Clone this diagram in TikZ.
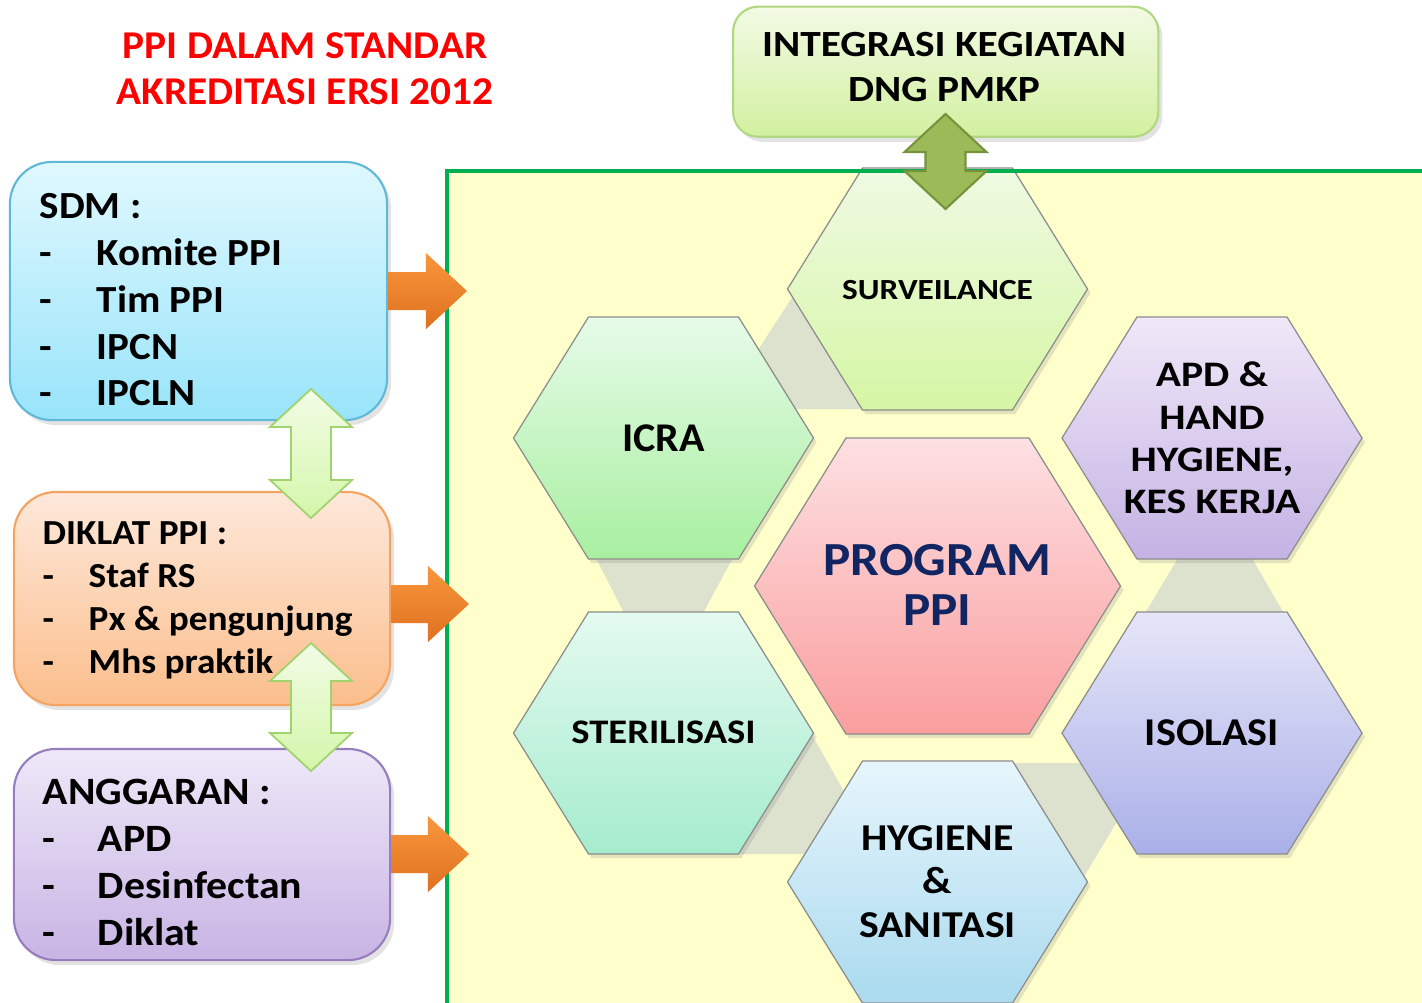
\documentclass[tikz,border=0pt]{standalone}
\usepackage{fontspec}
\setmainfont{Carlito}[Ligatures=NoCommon]
\usetikzlibrary{calc,shadows}

\newcommand{\widen}[1]{\addfontfeatures{FakeStretch=#1}}

\definecolor{bgyellow}{HTML}{FFFFCC}
\definecolor{framegreen}{HTML}{00B050}
\definecolor{linkgray}{HTML}{DCE2CD}
\definecolor{hexline}{HTML}{8C8C8C}
\definecolor{titlered}{HTML}{FF0000}
\definecolor{progblue}{HTML}{102562}
\definecolor{survtop}{HTML}{EFFAE3}\definecolor{survbot}{HTML}{D5F6A4}
\definecolor{icratop}{HTML}{E6FBE8}\definecolor{icrabot}{HTML}{A8EFA0}
\definecolor{stertop}{HTML}{E4FAF0}\definecolor{sterbot}{HTML}{A5ECCD}
\definecolor{hygtop}{HTML}{E6F5FC}\definecolor{hygbot}{HTML}{AADAEE}
\definecolor{isoltop}{HTML}{E6E6F8}\definecolor{isolbot}{HTML}{AAB0E8}
\definecolor{apdtop}{HTML}{F0E8F8}\definecolor{apdbot}{HTML}{C4B2E4}
\definecolor{progtop}{HTML}{FDE0E2}\definecolor{progbot}{HTML}{FA9E9E}
\definecolor{sdmtop}{HTML}{E0F8FE}\definecolor{sdmbot}{HTML}{98E4FA}
\definecolor{sdmline}{HTML}{60B8D8}
\definecolor{diktop}{HTML}{FDE8DA}\definecolor{dikbot}{HTML}{FBBE8C}
\definecolor{dikline}{HTML}{F4A460}
\definecolor{angtop}{HTML}{EEE8F8}\definecolor{angbot}{HTML}{C8B4E4}
\definecolor{angline}{HTML}{967DBE}
\definecolor{integtop}{HTML}{F2FAE4}\definecolor{integbot}{HTML}{D2F0A0}
\definecolor{integline}{HTML}{B0D880}
\definecolor{arrtop}{HTML}{F8963C}\definecolor{arrbot}{HTML}{E07020}
\definecolor{paletop}{HTML}{F2FCE6}\definecolor{palebot}{HTML}{D4F6AA}
\definecolor{palearrline}{HTML}{A0D26E}
\definecolor{darkarr}{HTML}{9BBB59}\definecolor{darkarrline}{HTML}{76923C}

\begin{document}
\begin{tikzpicture}
  [x=0.01cm, y=-0.01cm,
     hexcell/.style={draw=hexline,
                  line width=0.35pt,
                  drop shadow={shadow xshift=0.03cm,shadow yshift=-0.04cm,opacity=0.22}},
     hexlabel/.style={font=\bfseries\fontsize{10.8}{12.4}\selectfont\widen{1.1},
                  align=center,
                  inner sep=0pt},
     infobox/.style={rectangle,
                  rounded corners=0.42cm,
                  line width=0.6pt,
                  inner sep=0pt,
                  drop shadow={shadow xshift=0.04cm,shadow yshift=-0.05cm,opacity=0.22}},
     boxtext/.style={anchor=north west,
                  align=left,
                  inner sep=0pt},
     orangearr/.style={top color=arrtop,
                  bottom color=arrbot,
                  to path={let \p1=(\tikztostart), \p2=(\tikztotarget) in
                    (\x1,\y2+0.19cm) -- (\x2-0.41cm,\y2+0.19cm) -- (\x2-0.41cm,\y2+0.38cm) -- (\p2)
                    -- (\x2-0.41cm,\y2-0.38cm) -- (\x2-0.41cm,\y2-0.19cm) -- (\x1,\y2-0.19cm) -- cycle}},
     updown/.style={to path={let \p1=(\tikztostart), \p2=(\tikztotarget) in
                    (\p1) -- (\x1+0.41cm,\y1-0.38cm) -- (\x1+0.2cm,\y1-0.38cm) -- (\x1+0.2cm,\y2+0.38cm)
                    -- (\x1+0.41cm,\y2+0.38cm) -- (\x1,\y2) -- (\x1-0.41cm,\y2+0.38cm) -- (\x1-0.2cm,\y2+0.38cm)
                    -- (\x1-0.2cm,\y1-0.38cm) -- (\x1-0.41cm,\y1-0.38cm) -- cycle}},
     paleupdown/.style={updown,
                  draw=palearrline,
                  line width=0.5pt,
                  top color=paletop,
                  bottom color=palebot},
     darkupdown/.style={updown,
                  draw=darkarrline,
                  line width=0.6pt,
                  fill=darkarr}
  ]
    \useasboundingbox (0,0) rectangle (1422,1002);

    % yellow field
    \fill[bgyellow] (447,171) rectangle (1440,1020);

    % grey links between the outer cells
    \fill[linkgray] (594,554) -- (735,554) -- (702,615) -- (625,615) -- cycle;
    \fill[linkgray] (1180.5,554) -- (1249.5,554) -- (1285,615) -- (1144,615) -- cycle;
    \fill[linkgray] (747,367) -- (806,276) -- (880,276) -- (880,409) -- (780,409) -- cycle;
    \fill[linkgray] (803,719) -- (862,823) -- (862,854) -- (720,854) -- cycle;
    \fill[linkgray] (990,763) -- (1088,763) -- (1145,775) -- (1079,885) -- cycle;

    % outer cells
    \foreach \cx/\cy/\ct/\cb in {937.5/289/survtop/survbot, 663.5/438/icratop/icrabot,
                                 1212/438/apdtop/apdbot, 663.5/733/stertop/sterbot,
                                 1212/733/isoltop/isolbot, 937.5/882/hygtop/hygbot}{
        \path[hexcell, top color=\ct, bottom color=\cb]
            (\cx-150,\cy) -- (\cx-75,\cy-121) -- (\cx+75,\cy-121) -- (\cx+150,\cy)
            -- (\cx+75,\cy+121) -- (\cx-75,\cy+121) -- cycle;
    }
    % centre cell
    \path[hexcell, top color=progtop, bottom color=progbot]
        (754.5,586) -- (846,438) -- (1029,438) -- (1120.5,586) -- (1029,734) -- (846,734) -- cycle;

    \draw[framegreen, line width=1.2pt] (1440,171) -- (447,171) -- (447,1020);

    \node[hexlabel, font=\bfseries\fontsize{8.3}{10}\selectfont\widen{1.14}] (surv) at (937.5,290.5) {SURVEILANCE};
    \node[hexlabel, font=\bfseries\fontsize{11.6}{13}\selectfont\widen{1.03}] (icra) at (663.5,438.5) {ICRA};
    \node[hexlabel, font=\bfseries\fontsize{10.2}{12}\selectfont\widen{1.16}] (apd) at (1212,438) {APD \&\\HAND\\HYGIENE,\\KES KERJA};
    \node[hexlabel, font=\bfseries\fontsize{9.8}{12}\selectfont\widen{1.12}] (ster) at (663.5,732.5) {STERILISASI};
    \node[hexlabel, font=\bfseries\fontsize{11.2}{13}\selectfont\widen{1.07}] (isol) at (1212,732.5) {ISOLASI};
    \node[hexlabel] (hyg) at (937.5,881.5) {HYGIENE\\\&\\SANITASI};
    \node[hexlabel, font=\bfseries\fontsize{13.5}{14.2}\selectfont\widen{1.08}, text=progblue] (prog) at (937.5,585) {PROGRAM\\PPI};

    % title and boxes
    \node[font=\bfseries\fontsize{11.2}{13}\selectfont\widen{1.05}, text=titlered, align=center] (title) at (305,68.5)
        {PPI DALAM STANDAR\\AKREDITASI ERSI 2012};
    \node[infobox, rounded corners=0.25cm, minimum width=4.25cm, minimum height=1.30cm,
          top color=integtop, bottom color=integbot, draw=integline] (integ) at (945.7,71.7) {};
    \node[font=\bfseries\fontsize{10.5}{12.8}\selectfont\widen{1.12}, align=center, inner sep=0pt]
        (integtxt) at (944,67.5) {INTEGRASI KEGIATAN\\DNG PMKP};

    \node[infobox, minimum width=3.77cm, minimum height=2.58cm,
          top color=sdmtop, bottom color=sdmbot, draw=sdmline] (sdm) at (198.5,291) {};
    \node[boxtext, font=\bfseries\fontsize{10.9}{13.3}\selectfont\widen{1.07}] (sdmtxt) at (39,193)
        {SDM :\\\makebox[0.57cm][l]{-}Komite PPI\\\makebox[0.57cm][l]{-}Tim PPI\\
         \makebox[0.57cm][l]{-}IPCN\\\makebox[0.57cm][l]{-}IPCLN};

    \node[infobox, minimum width=3.76cm, minimum height=2.13cm,
          top color=diktop, bottom color=dikbot, draw=dikline] (diklat) at (202,598.5) {};
    \node[boxtext, font=\bfseries\fontsize{10}{12.2}\selectfont\widen{1.06}] (diktxt) at (42,521)
        {DIKLAT PPI :\\\makebox[0.46cm][l]{-}Staf RS\\\makebox[0.46cm][l]{-}Px \& pengunjung\\
         \makebox[0.46cm][l]{-}Mhs praktik};

    \node[infobox, minimum width=3.76cm, minimum height=2.11cm,
          top color=angtop, bottom color=angbot, draw=angline] (angg) at (202,854.5) {};
    \node[boxtext, font=\bfseries\fontsize{11}{13.4}\selectfont\widen{1.08}] (angtxt) at (42,778)
        {ANGGARAN :\\\makebox[0.55cm][l]{-}APD\\\makebox[0.55cm][l]{-}Desinfectan\\
         \makebox[0.55cm][l]{-}Diklat};

    % arrows
    \coordinate (tipa) at (467,291);
    \coordinate (tipb) at (469,604);
    \coordinate (tipc) at (469,854);
    \path[orangearr] (sdm.east) to (tipa);
    \path[orangearr] (diklat.east) to (tipb);
    \path[orangearr] (angg.east) to (tipc);

    \coordinate (sdmlow) at (311,389);
    \coordinate (dikup) at (311,518);
    \coordinate (diklow) at (311,643);
    \coordinate (angup) at (311,771);
    \path[paleupdown] (sdmlow) to (dikup);
    \path[paleupdown] (diklow) to (angup);

    \coordinate (integlow) at (945.5,114);
    \coordinate (survup) at (945.5,209);
    \path[darkupdown] (integlow) to (survup);
\end{tikzpicture}
\end{document}
